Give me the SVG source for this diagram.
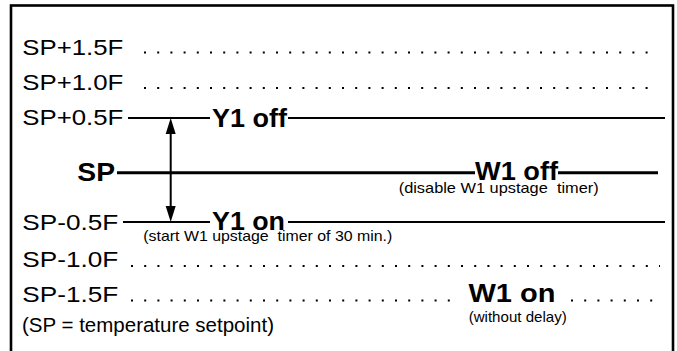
<svg xmlns="http://www.w3.org/2000/svg" width="677" height="351" viewBox="0 0 677 351">
<defs>
<style>
.lbl{font-family:"Liberation Sans",Arial,sans-serif;font-size:22px;fill:#000}
.bold{font-family:"Liberation Sans",Arial,sans-serif;font-size:26px;font-weight:bold;fill:#000}
.small{font-family:"Liberation Sans",Arial,sans-serif;font-size:15px;fill:#000;white-space:pre}
.foot{font-family:"Liberation Sans",Arial,sans-serif;font-size:20.5px;fill:#000}
.thin{stroke:#000;stroke-width:2;fill:none}
.thick{stroke:#000;stroke-width:3;fill:none}
.dots{stroke:#000;stroke-width:2;stroke-dasharray:2 11.2;fill:none}
</style>
</defs>
<rect x="0" y="0" width="677" height="351" fill="#fff"/>
<rect id="frame" x="11" y="5.5" width="662" height="360" fill="none" stroke="#000" stroke-width="2.6"/>
<g id="connectors">
<line class="dots" x1="144" y1="52.5" x2="652" y2="52.5"/>
<line class="dots" x1="144" y1="88" x2="652" y2="88"/>
<line class="thin" x1="128" y1="118" x2="210" y2="118"/>
<line class="thin" x1="288" y1="118" x2="665" y2="118"/>
<line class="thick" x1="117" y1="172.7" x2="475" y2="172.7"/>
<line class="thick" x1="558" y1="172.7" x2="658" y2="172.7"/>
<line class="thin" x1="123" y1="222" x2="210" y2="222"/>
<line class="thin" x1="288" y1="222" x2="665" y2="222"/>
<line class="dots" x1="131" y1="266" x2="660" y2="266"/>
<line class="dots" x1="131" y1="300.5" x2="460" y2="300.5"/>
<line class="dots" x1="571" y1="300.5" x2="660" y2="300.5"/>
<g id="arrow">
<line x1="170.7" y1="133" x2="170.7" y2="207" stroke="#000" stroke-width="2"/>
<path d="M170.7,118 L175.7,134 L165.7,134 Z" fill="#000"/>
<path d="M170.7,222 L175.7,206 L165.7,206 Z" fill="#000"/>
</g>
</g>
<g id="n-sp15"><text class="lbl" x="22.3" y="54.5" textLength="101" lengthAdjust="spacingAndGlyphs">SP+1.5F</text></g>
<g id="n-sp10"><text class="lbl" x="22.3" y="89.5" textLength="101" lengthAdjust="spacingAndGlyphs">SP+1.0F</text></g>
<g id="n-sp05"><text class="lbl" x="22.3" y="124.5" textLength="101" lengthAdjust="spacingAndGlyphs">SP+0.5F</text></g>
<g id="n-sp"><text class="bold" x="77.3" y="180.5" textLength="37.7" lengthAdjust="spacingAndGlyphs">SP</text></g>
<g id="n-spm05"><text class="lbl" x="22.3" y="229.5" textLength="96" lengthAdjust="spacingAndGlyphs">SP-0.5F</text></g>
<g id="n-spm10"><text class="lbl" x="22.3" y="267" textLength="96" lengthAdjust="spacingAndGlyphs">SP-1.0F</text></g>
<g id="n-spm15"><text class="lbl" x="22.3" y="301.5" textLength="96" lengthAdjust="spacingAndGlyphs">SP-1.5F</text></g>
<g id="n-y1off"><text class="bold" x="212" y="126.5" textLength="75" lengthAdjust="spacingAndGlyphs">Y1 off</text></g>
<g id="n-y1on">
<text class="bold" x="212" y="230" textLength="73" lengthAdjust="spacingAndGlyphs">Y1 on</text>
<text class="small" x="143.3" y="241" textLength="249" lengthAdjust="spacingAndGlyphs">(start W1 upstage  timer of 30 min.)</text>
</g>
<g id="n-w1off">
<text class="bold" x="475" y="179.5" textLength="83" lengthAdjust="spacingAndGlyphs">W1 off</text>
<text class="small" x="398.7" y="193" textLength="200" lengthAdjust="spacingAndGlyphs">(disable W1 upstage  timer)</text>
</g>
<g id="n-w1on">
<text class="bold" x="468.5" y="302" textLength="87" lengthAdjust="spacingAndGlyphs">W1 on</text>
<text class="small" x="468.7" y="321.5" textLength="98" lengthAdjust="spacingAndGlyphs">(without delay)</text>
</g>
<g id="n-note"><text class="foot" x="22" y="332" textLength="252" lengthAdjust="spacingAndGlyphs">(SP = temperature setpoint)</text></g>
</svg>
